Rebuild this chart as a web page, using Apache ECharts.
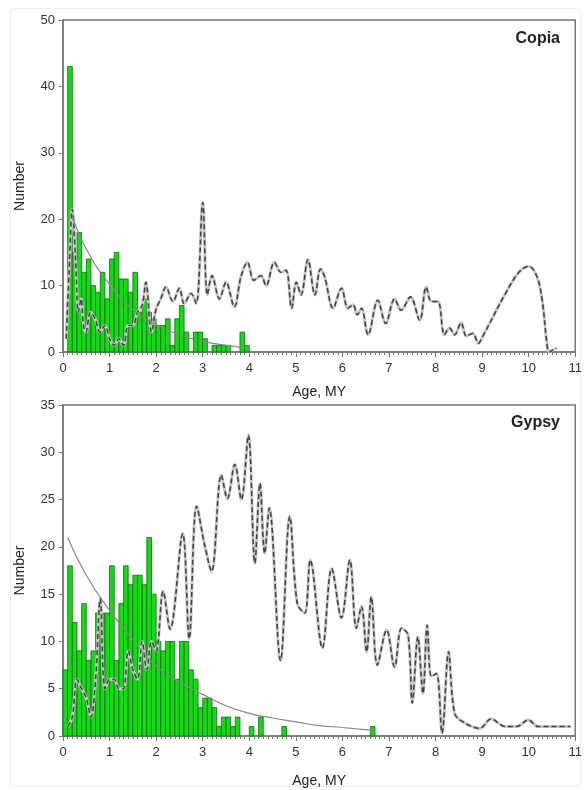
<!DOCTYPE html>
<html>
<head>
<meta charset="utf-8">
<script src="https://cdn.jsdelivr.net/npm/echarts@6/dist/echarts.min.js"></script>
<style>
  html, body { margin: 0; padding: 0; background: #fff; }
  #main { width: 585px; height: 790px; }
</style>
</head>
<body>
<div id="main"></div>
<script>
// histogram bins: 0.1 MY wide, starting at 0
let binWidth = 0.1;
let copiaCounts = [0, 43, 15, 18, 12, 14, 10, 9, 12, 8, 14, 15, 11, 11, 9, 12, 6, 8, 6, 5,
    4, 4, 5, 1, 5, 7, 3, 0, 3, 3, 2, 0, 1, 1, 1, 1, 0, 0, 3, 1];
let gypsyCounts = [7, 18, 12, 9, 14, 8, 9, 13, 13, 13, 18, 8, 14, 18, 16, 17, 17, 16, 21, 15,
    10, 9, 10, 10, 6, 10, 10, 7, 6, 3, 4, 4, 3, 1, 2, 2, 1, 2, 0, 0,
    1, 0, 2, 0, 0, 0, 0, 1, 0, 0, 0, 0, 0, 0, 0, 0, 0, 0, 0, 0,
    0, 0, 0, 0, 0, 0, 1];

// fitted decay curves
let copiaFit = [[0.2, 20.5], [0.5, 15.5], [1, 10.2], [1.5, 6.4], [2, 4.1], [2.5, 2.6], [3, 1.6], [3.5, 1.0], [4, 0.6]];
let gypsyFit = [[0.1, 21], [0.5, 17], [1, 13.3], [1.5, 10.2], [2, 7.4], [2.5, 5.7], [3, 4.4], [3.5, 3.2],
    [4, 2.4], [4.5, 1.9], [5, 1.5], [5.5, 1.1], [6, 0.9], [6.65, 0.6]];

// dashed age distributions
let copiaLine = [[0.07, 2], [0.13, 12], [0.2, 21.5], [0.27, 14], [0.33, 6], [0.39, 8], [0.44, 4], [0.49, 3],
    [0.59, 6], [0.69, 5], [0.79, 3], [0.9, 4], [1.0, 2], [1.1, 1], [1.2, 2], [1.3, 1], [1.4, 4], [1.5, 4],
    [1.6, 6], [1.7, 7], [1.78, 10.5], [1.9, 3], [2.0, 6.5], [2.1, 8], [2.21, 9.8], [2.36, 7.6], [2.5, 9.6],
    [2.6, 7.3], [2.75, 8.8], [2.86, 7.3], [3.0, 22.5], [3.1, 8.6], [3.2, 11.5], [3.36, 8], [3.5, 10.5],
    [3.68, 6.8], [3.82, 11.3], [3.96, 13.5], [4.1, 10.8], [4.25, 11.5], [4.36, 10], [4.54, 13.5], [4.68, 12],
    [4.79, 12.3], [4.91, 6.6], [5.01, 10.5], [5.11, 8.6], [5.26, 13.9], [5.41, 8.6], [5.53, 12.5], [5.62, 11.3],
    [5.8, 6.6], [5.98, 9.6], [6.12, 6.6], [6.23, 7.1], [6.32, 5.6], [6.41, 6.6], [6.55, 2.6], [6.76, 7.8],
    [6.93, 4.3], [7.12, 8.0], [7.26, 6.3], [7.46, 8.3], [7.66, 4.8], [7.8, 9.8], [7.91, 7.6], [8.05, 7.6],
    [8.19, 2.6], [8.3, 3.6], [8.41, 2.6], [8.55, 4.4], [8.66, 2.4], [8.8, 2.8], [8.92, 1.3], [9.01, 2.3],
    [9.5, 8.8], [9.79, 12], [10.0, 12.9], [10.18, 11.3], [10.29, 7.8], [10.4, 0.8], [10.44, 0], [10.52, 0.3], [10.6, 0.6]];
let gypsyLine = [[0.1, 1], [0.2, 2], [0.3, 6], [0.4, 5], [0.5, 4], [0.6, 2], [0.7, 6], [0.8, 14.5], [0.9, 5],
    [1.0, 6], [1.1, 6], [1.2, 5], [1.3, 5], [1.4, 9], [1.5, 7], [1.6, 6], [1.7, 10], [1.8, 7], [1.9, 10],
    [2.0, 9], [2.15, 15.3], [2.3, 11.3], [2.57, 21.4], [2.71, 10.3], [2.87, 24.3], [3.05, 20], [3.19, 17.4],
    [3.4, 27.6], [3.53, 25.1], [3.69, 28.7], [3.83, 25], [3.98, 31.8], [4.12, 18.3], [4.23, 26.7], [4.33, 19.3],
    [4.43, 24.1], [4.67, 8], [4.87, 23.2], [5.03, 14], [5.19, 13], [5.31, 18.6], [5.57, 9.3], [5.77, 17.7],
    [5.98, 12.5], [6.16, 18.6], [6.3, 11.4], [6.41, 13.7], [6.52, 8.9], [6.62, 14.7], [6.75, 7.5], [6.95, 11.2],
    [7.12, 7.3], [7.27, 11.4], [7.41, 10.7], [7.5, 3.5], [7.62, 10.5], [7.73, 4.5], [7.82, 11.7], [7.91, 6.3],
    [8.02, 6.6], [8.14, 0.3], [8.28, 8.9], [8.41, 2.4], [8.62, 1.4], [8.95, 0.8], [9.19, 1.8], [9.5, 1.0],
    [9.74, 1.0], [9.99, 1.7], [10.2, 1.0], [10.5, 1.0], [10.9, 1.0]];

let fontName = 'Liberation Sans, Arial, sans-serif';

function binData(counts) {
    let out = [];
    for (let i = 0; i < counts.length; i++) {
        if (counts[i] > 0) out.push([i * binWidth, counts[i]]);
    }
    return out;
}

function renderBar(params, api) {
    let x0 = api.value(0);
    let h = api.value(1);
    let p0 = api.coord([x0, h]);
    let p1 = api.coord([x0 + binWidth, 0]);
    return {
        type: 'rect',
        shape: {x: p0[0], y: p0[1], width: p1[0] - p0[0], height: p1[1] - p0[1]},
        style: {fill: '#19d819', stroke: '#0b6e0b', lineWidth: 0.8}
    };
}

function xAxisOf(gridIndex, nameGap) {
    return {
        type: 'value', gridIndex: gridIndex, min: 0, max: 11, interval: 1,
        name: 'Age, MY', nameLocation: 'middle', nameGap: nameGap,
        nameTextStyle: {fontFamily: fontName, fontSize: 14, color: '#222'},
        axisLine: {lineStyle: {color: '#777', width: 1.5}},
        axisTick: {inside: false, length: 5, lineStyle: {color: '#777'}},
        minorTick: {show: true, splitNumber: 10, length: 3, lineStyle: {color: '#777'}},
        axisLabel: {fontFamily: fontName, fontSize: 13, color: '#333', margin: 10},
        splitLine: {show: false}
    };
}

function yAxisOf(gridIndex, max, interval) {
    return {
        type: 'value', gridIndex: gridIndex, min: 0, max: max, interval: interval,
        name: 'Number', nameLocation: 'middle', nameGap: 36,
        nameTextStyle: {fontFamily: fontName, fontSize: 14, color: '#222'},
        axisLine: {show: true, lineStyle: {color: '#777', width: 1.5}},
        axisTick: {show: true, length: 4, lineStyle: {color: '#777'}},
        axisLabel: {fontFamily: fontName, fontSize: 13, color: '#333', margin: 8},
        splitLine: {show: false}
    };
}

function dashedSeries(idx, data) {
    return [{
        type: 'line', xAxisIndex: idx, yAxisIndex: idx, data: data, smooth: 0.35,
        showSymbol: false, z: 3,
        lineStyle: {color: '#c8c8c8', width: 3}
    }, {
        type: 'line', xAxisIndex: idx, yAxisIndex: idx, data: data, smooth: 0.35,
        showSymbol: false, z: 4,
        lineStyle: {color: '#444', width: 1.6, type: [5, 3]}
    }];
}

let myChart = echarts.init(document.getElementById('main'));
let option = {
    backgroundColor: '#fff',
    animation: false,
    graphic: [{
        type: 'rect', left: 8, top: 6, shape: {width: 570, height: 778, r: 4},
        style: {fill: 'none', stroke: '#eee', lineWidth: 1}, silent: true
    }],
    grid: [
        {left: 63, top: 20, width: 513, height: 332, show: true, borderColor: '#777', borderWidth: 1.5},
        {left: 63, top: 405, width: 513, height: 331, show: true, borderColor: '#777', borderWidth: 1.5}
    ],
    title: [
        {text: 'Copia', right: 20, top: 26, textStyle: {fontFamily: fontName, fontSize: 16, fontWeight: 'bold', color: '#222'}},
        {text: 'Gypsy', right: 20, top: 410, textStyle: {fontFamily: fontName, fontSize: 16, fontWeight: 'bold', color: '#222'}}
    ],
    xAxis: [xAxisOf(0, 33), xAxisOf(1, 38)],
    yAxis: [yAxisOf(0, 50, 10), yAxisOf(1, 35, 5)],
    series: [
        {type: 'custom', xAxisIndex: 0, yAxisIndex: 0, renderItem: renderBar, data: binData(copiaCounts), z: 2},
        {type: 'custom', xAxisIndex: 1, yAxisIndex: 1, renderItem: renderBar, data: binData(gypsyCounts), z: 2},
        ...dashedSeries(0, copiaLine),
        ...dashedSeries(1, gypsyLine),
        {type: 'line', xAxisIndex: 0, yAxisIndex: 0, data: copiaFit, smooth: true, showSymbol: false, z: 5,
            lineStyle: {color: '#888', width: 1.2}},
        {type: 'line', xAxisIndex: 1, yAxisIndex: 1, data: gypsyFit, smooth: true, showSymbol: false, z: 5,
            lineStyle: {color: '#888', width: 1.2}}
    ]
};
myChart.setOption(option);
</script>
</body>
</html>
